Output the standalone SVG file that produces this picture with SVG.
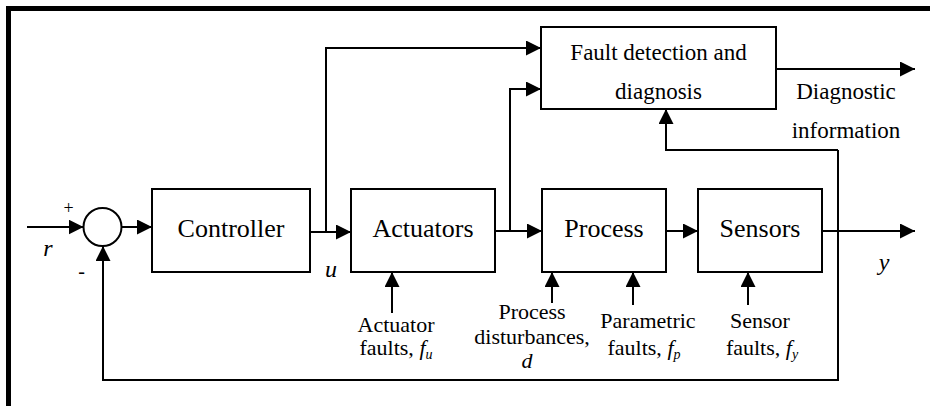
<svg xmlns="http://www.w3.org/2000/svg" width="930" height="406" viewBox="0 0 930 406" font-family="Liberation Serif, serif">
  <style>
    .box { fill: #fff; stroke: #000; stroke-width: 2; }
    .wire { fill: none; stroke: #000; stroke-width: 2; }
    .arr { marker-end: url(#head); }
    text { fill: #000; text-anchor: middle; }
    .big { font-size: 26px; }
    .mid { font-size: 23px; }
    .small { font-size: 22px; }
    .it { font-style: italic; }
    .sym { font-size: 24px; font-style: italic; }
  </style>
  <defs>
    <marker id="head" markerUnits="userSpaceOnUse" markerWidth="15" markerHeight="15" refX="15" refY="7.5" orient="auto">
      <path d="M0,0 L15,7.5 L0,15 Z" fill="#000"/>
    </marker>
  </defs>
  <rect width="930" height="406" fill="#fff"/>
  <!-- outer frame (top and left edges) -->
  <path d="M8.5,406 L8.5,8.5 L930,8.5" fill="none" stroke="#000" stroke-width="5"/>

  <g id="connectors">
    <path class="wire arr" d="M27,227 L83.5,227"/>
    <path class="wire arr" d="M122,227 L152,227"/>
    <path class="wire arr" d="M310,232 L351,232"/>
    <path class="wire arr" d="M326,232 L326,48 L541,48"/>
    <path class="wire arr" d="M495,231 L542,231"/>
    <path class="wire arr" d="M510,231 L510,89 L541,89"/>
    <path class="wire arr" d="M666,231 L698,231"/>
    <path class="wire arr" d="M822,231 L915,231"/>
    <path class="wire arr" d="M776,69 L915,69"/>
    <path class="wire arr" d="M838,150 L838,380 L103,380 L103,246"/>
    <path class="wire arr" d="M838,150 L666,150 L666,109"/>
    <path class="wire arr" d="M392,313 L392,272"/>
    <path class="wire arr" d="M552,303 L552,272"/>
    <path class="wire arr" d="M633,305 L633,272"/>
    <path class="wire arr" d="M748,305 L748,272"/>
  </g>

  <g id="sum">
    <circle class="box" cx="102.5" cy="227" r="19"/>
    <text x="68.5" y="214" font-size="18">+</text>
    <text x="81.5" y="278" font-size="20">-</text>
    <text class="sym" x="48" y="256">r</text>
  </g>

  <g id="controller">
    <rect class="box" x="152" y="189" width="158" height="83"/>
    <text class="big" x="231" y="237">Controller</text>
    <text class="sym" x="331" y="277">u</text>
  </g>

  <g id="actuators">
    <rect class="box" x="351" y="189" width="144" height="83"/>
    <text class="big" x="423" y="237">Actuators</text>
  </g>

  <g id="process">
    <rect class="box" x="542" y="189" width="124" height="83"/>
    <text class="big" x="604" y="237">Process</text>
  </g>

  <g id="sensors">
    <rect class="box" x="698" y="189" width="124" height="83"/>
    <text class="big" x="760" y="237">Sensors</text>
    <text class="sym" x="884" y="270">y</text>
  </g>

  <g id="fdd">
    <rect class="box" x="541" y="27" width="235" height="82"/>
    <text class="mid" x="658.5" y="60">Fault detection and</text>
    <text class="mid" x="658.5" y="99">diagnosis</text>
  </g>

  <g id="diagnostic-info">
    <text class="mid" x="846" y="99">Diagnostic</text>
    <text class="mid" x="846" y="138">information</text>
  </g>

  <g id="actuator-faults">
    <text class="small" x="396" y="332">Actuator</text>
    <text class="small" x="396" y="355">faults, <tspan class="it">f</tspan><tspan class="it" font-size="14" dy="4">u</tspan></text>
  </g>

  <g id="disturbances">
    <text class="small" x="532" y="319">Process</text>
    <text class="small" x="532" y="344">disturbances,</text>
    <text class="small it" x="527" y="368">d</text>
  </g>

  <g id="parametric-faults">
    <text class="small" x="648" y="328">Parametric</text>
    <text class="small" x="644" y="355">faults, <tspan class="it">f</tspan><tspan class="it" font-size="14" dy="4">p</tspan></text>
  </g>

  <g id="sensor-faults">
    <text class="small" x="760" y="328">Sensor</text>
    <text class="small" x="762" y="355">faults, <tspan class="it">f</tspan><tspan class="it" font-size="14" dy="4">y</tspan></text>
  </g>
</svg>
